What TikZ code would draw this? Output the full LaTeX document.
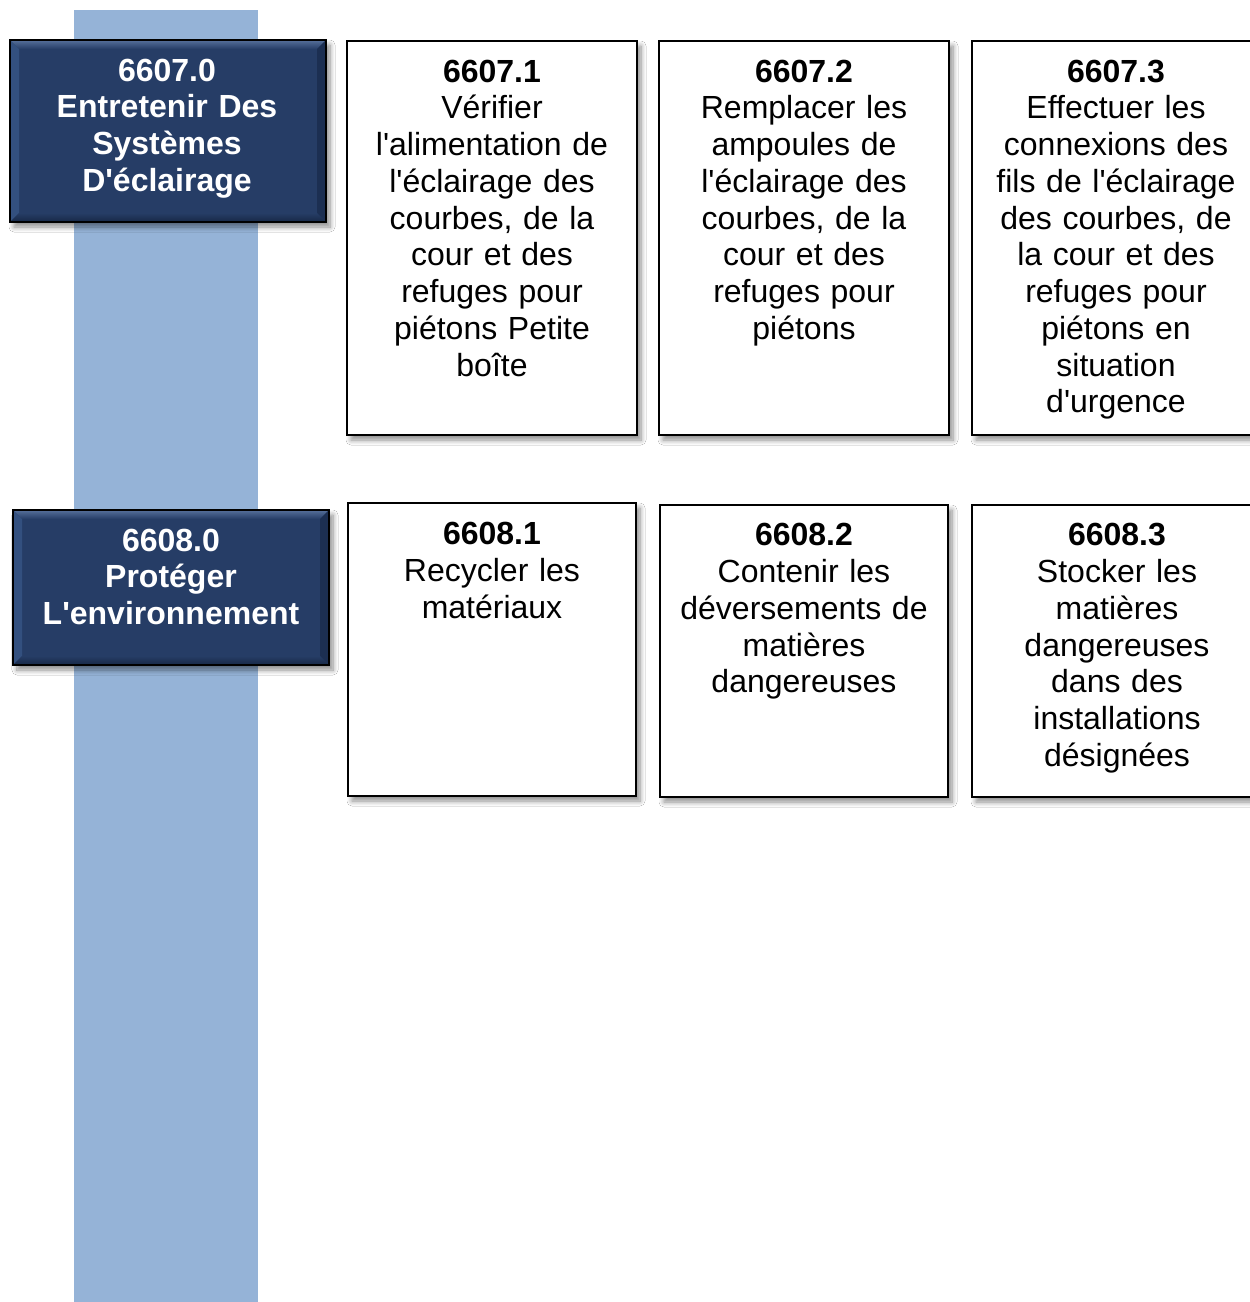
\documentclass[tikz,border=0pt]{standalone}
\usepackage{fontspec}
\setmainfont{Liberation Sans}
\usetikzlibrary{shadows.blur}
\definecolor{barblue}{HTML}{95B3D7}
\definecolor{navy}{HTML}{263D66}
\definecolor{navylight}{HTML}{56709B}
\definecolor{navyleft}{HTML}{33507F}
\definecolor{navydark}{HTML}{172846}
\definecolor{navyright}{HTML}{1C2F52}
\newcommand\qapo{\textquotesingle}
\tikzset{
  boxshadow/.style={blur shadow={shadow xshift=4pt, shadow yshift=-5pt, shadow blur steps=8, shadow blur radius=5pt, shadow opacity=45}},
  taskbox/.style={draw=black, line width=1.6pt, fill=white, boxshadow},
  txt/.style={anchor=north, inner sep=0pt, align=center, text width=285pt, font=\fontsize{32}{36.75}\selectfont},
  hdrtxt/.style={txt, text=white, font=\fontsize{32}{36.7}\selectfont\bfseries},
}
\begin{document}
\begin{tikzpicture}[x=1pt, y=-1pt]
\clip (0,0) rectangle (1250,1302);
\fill[white] (0,0) rectangle (1250,1302);
% vertical bar
\fill[barblue] (74,10) rectangle (258,1302);
% header boxes
\foreach \xa/\ya/\xb/\yb in {10/40/326/222, 13/510/329/665}{
  \fill[navy, boxshadow] (\xa,\ya) rectangle (\xb,\yb);
  \shade[top color=navylight, bottom color=navy] (\xa,\ya) -- (\xb,\ya) -- ({\xb-9},{\ya+9}) -- ({\xa+9},{\ya+9}) -- cycle;
  \fill[navyleft] (\xa,\ya) -- ({\xa+9},{\ya+9}) -- ({\xa+9},{\yb-9}) -- (\xa,\yb) -- cycle;
  \fill[navyright] (\xb,\ya) -- ({\xb-9},{\ya+9}) -- ({\xb-9},{\yb-9}) -- (\xb,\yb) -- cycle;
  \shade[top color=navy, bottom color=navydark] (\xa,\yb) -- ({\xa+9},{\yb-9}) -- ({\xb-9},{\yb-9}) -- (\xb,\yb) -- cycle;
  \draw[black, line width=2.4pt] (\xa,\ya) rectangle (\xb,\yb);
}
\node[hdrtxt] (h1) at (167,55.3) {\strut 6607.0\\Entretenir Des\\Systèmes\\D\qapo éclairage};
\node[hdrtxt] (h2) at (171,525.3) {\strut 6608.0\\Protéger\\L\qapo environnement};
% task boxes row 1
\draw[taskbox] (347,41) rectangle (637,435);
\draw[taskbox] (659,41) rectangle (949,435);
\draw[taskbox] (972,41) rectangle (1262,435);
% task boxes row 2
\draw[taskbox] (348,503) rectangle (636,796);
\draw[taskbox] (660,505) rectangle (948,797);
\draw[taskbox] (972,505) rectangle (1262,797);
% texts
\node[txt] (t11) at (492,56.3) {\strut\textbf{6607.1}\\Vérifier\\l\qapo alimentation de\\l\qapo éclairage des\\courbes, de la\\cour et des\\refuges pour\\piétons Petite\\boîte};
\node[txt] (t12) at (804,56.3) {\strut\textbf{6607.2}\\Remplacer les\\ampoules de\\l\qapo éclairage des\\courbes, de la\\cour et des\\refuges pour\\piétons};
\node[txt] (t13) at (1116,56.3) {\strut\textbf{6607.3}\\Effectuer les\\connexions des\\fils de l\qapo éclairage\\des courbes, de\\la cour et des\\refuges pour\\piétons en\\situation\\d\qapo urgence};
\node[txt] (t21) at (492,519.0) {\strut\textbf{6608.1}\\Recycler les\\matériaux};
\node[txt] (t22) at (804,520.0) {\strut\textbf{6608.2}\\Contenir les\\déversements de\\matières\\dangereuses};
\node[txt] (t23) at (1117,520.0) {\strut\textbf{6608.3}\\Stocker les\\matières\\dangereuses\\dans des\\installations\\désignées};
\end{tikzpicture}
\end{document}
